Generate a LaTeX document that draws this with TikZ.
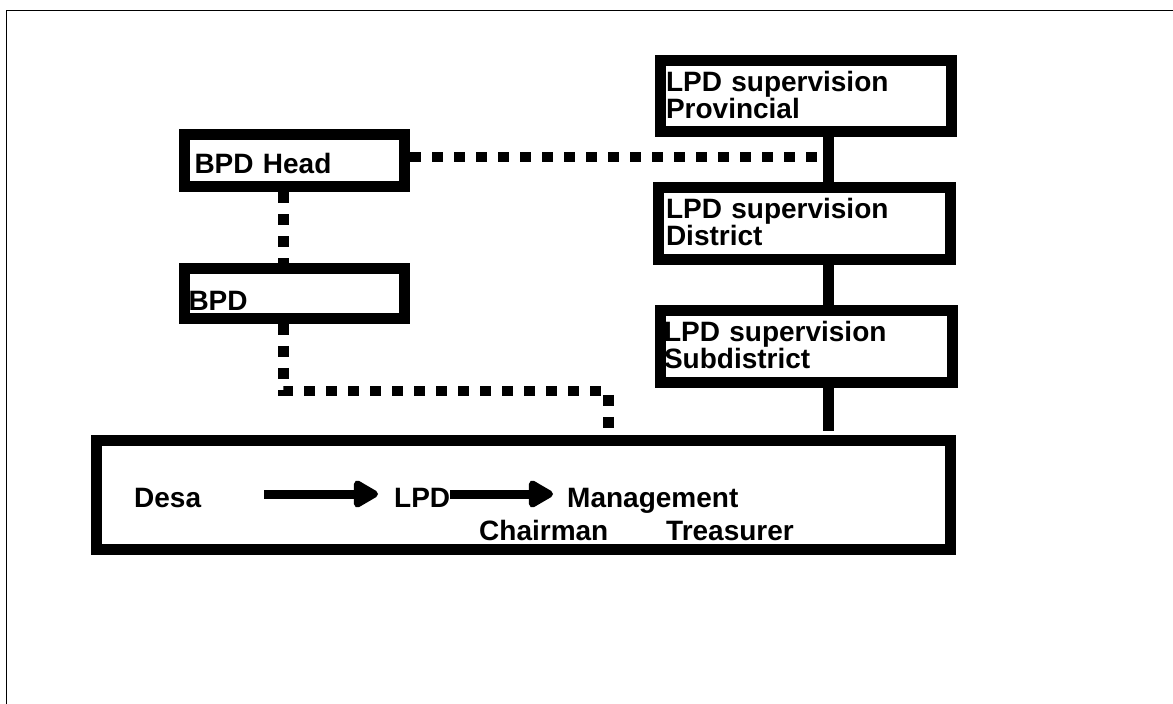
\documentclass[tikz,border=0pt]{standalone}
\usepackage{fontspec}
\setmainfont{Liberation Sans}
\usetikzlibrary{arrows.meta}

\begin{document}
\begin{tikzpicture}[x=1pt,y=-1pt]

		% Define styles
		\tikzstyle{unitbox} = [
		rectangle, draw=black, line width=11pt, inner ysep=0pt,
		align=left, font=\bfseries\fontsize{28}{26}\selectfont]
		\tikzstyle{onerow} = [text height=25pt, text depth=0pt]
		\tikzstyle{tworow} = [text height=20pt, text depth=30pt]
		\tikzstyle{inlabel} = [
		inner sep=0pt, anchor=base west, text height=26pt, text depth=0pt,
		font=\bfseries\fontsize{28}{26}\selectfont]
		\tikzstyle{dotline} = [line width=10.5pt, dash pattern=on 11pt off 11pt]
		\tikzstyle{solidline} = [line width=11pt]
		\tikzstyle{flow} = [line width=9pt, -{Triangle[length=28pt,width=30pt,round]}]

		\useasboundingbox (0,0) rectangle (1173,704);
		\draw[line width=1pt] (6,704) |- (1173,10);

		% Nodes
		\node (head) [unitbox, onerow, minimum width=220pt, minimum height=52pt,
		inner xsep=10pt, text width=200pt] at (294.5,160.5) {BPD Head};

		\node (bpd) [unitbox, minimum width=220pt, minimum height=50.3pt,
		inner xsep=4pt, text width=212pt, text height=33.4pt, text depth=0pt]
		at (294.5,293.3) {BPD};

		\node (prov) [unitbox, tworow, minimum width=291pt, minimum height=71pt,
		inner xsep=5.5pt, text width=280pt] at (806,96) {
			LPD supervision \\
			Provincial
		};

		\node (dist) [unitbox, tworow, minimum width=292pt, minimum height=72.3pt,
		inner xsep=7.5pt, text width=277pt] at (804.5,223.3) {
			LPD supervision \\
			District
		};

		\node (sub) [unitbox, tworow, minimum width=292pt, minimum height=72pt,
		inner xsep=3.5pt, text width=285pt] at (806.5,346.5) {
			LPD supervision \\
			Subdistrict
		};

		\node (desabox) [unitbox, minimum width=854pt, minimum height=109pt]
		at (523.5,495) {};

		\node (desa) [inlabel] at (134,507) {Desa};
		\node (lpd) [inlabel] at (394,507) {LPD};
		\node (mgmt) [inlabel] at (567,507) {Management};
		\node (chair) [inlabel] at (479,540) {Chairman};
		\node (treas) [inlabel] at (666,540) {Treasurer};

		% Connectors
		\coordinate (spine) at (828,0);
		\coordinate (bend) at (608.5,391);
		\coordinate (headtap) at ([yshift=3.5pt]head.east);
		\coordinate (gap) at ([yshift=4.5pt]desabox.north);

		\draw [dotline] ([xshift=-11pt]head.south) -- ([xshift=-11pt]bpd.north);
		\draw [dotline] (headtap) -- (headtap -| spine);
		\draw [dotline] ([xshift=-11pt]bpd.south) |- (bend) -- (bend |- desabox.north);

		\draw [solidline] (prov.south -| spine) -- (dist.north -| spine);
		\draw [solidline] (dist.south -| spine) -- (sub.north -| spine);
		\draw [solidline] (sub.south -| spine) -- (gap -| spine);

		% Arrows
		\draw [flow, shorten <=63pt, shorten >=16pt] (desa) -- (lpd);
		\draw [flow, shorten >=14pt] (lpd) -- (mgmt);
	\end{tikzpicture}
\end{document}
